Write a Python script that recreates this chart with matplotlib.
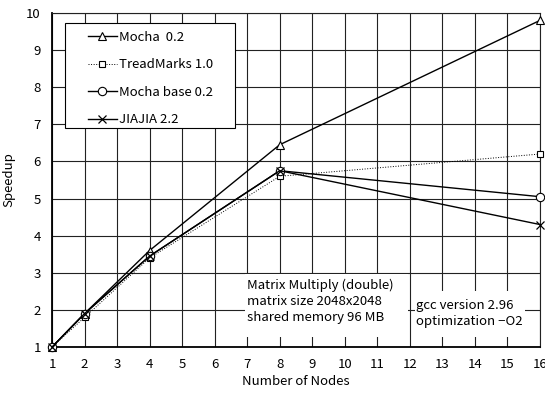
import numpy as np
import matplotlib
matplotlib.use("Agg")
import matplotlib.pyplot as plt
from matplotlib.patches import Rectangle

plt.rcParams['font.family'] = ['Noto Sans CJK JP', 'DejaVu Sans']

# data
nodes = [1, 2, 4, 8, 16]
mocha = [1.0, 1.9, 3.6, 6.45, 9.8]
treadmarks = [1.0, 1.8, 3.4, 5.6, 6.2]
mocha_base = [1.0, 1.9, 3.45, 5.75, 5.05]
jiajia = [1.0, 1.9, 3.45, 5.75, 4.3]

fig = plt.figure(figsize=(5.45, 3.93), dpi=100)
ax = fig.add_axes([0.0954, 0.117, 0.8954, 0.850])

ax.plot(nodes, mocha, color="black", lw=1.0, marker="^", ms=6,
        mfc="white", mec="black", mew=0.8, label="Mocha  0.2", clip_on=False, zorder=5)
ax.plot(nodes, treadmarks, color="black", lw=0.7, ls=":", marker="s", ms=5,
        mfc="white", mec="black", mew=0.8, label="TreadMarks 1.0", clip_on=False, zorder=5)
ax.plot(nodes, mocha_base, color="black", lw=1.0, marker="o", ms=6,
        mfc="white", mec="black", mew=0.8, label="Mocha base 0.2", clip_on=False, zorder=5)
ax.plot(nodes, jiajia, color="black", lw=1.0, marker="x", ms=5.5,
        mec="black", mew=0.9, label="JIAJIA 2.2", clip_on=False, zorder=5)

ax.set_xlim(1, 16)
ax.set_ylim(1, 10)
ax.set_xticks(range(1, 17))
ax.set_yticks(range(1, 11))
ax.grid(True, color="#222222", lw=0.8)
ax.set_axisbelow(True)
ax.tick_params(length=0, labelsize=9.5, pad=8)
for s in ["top", "right"]:
    ax.spines[s].set_linewidth(0.8)
    ax.spines[s].set_color("#222222")
for s in ["left", "bottom"]:
    ax.spines[s].set_linewidth(1.3)

ax.set_xlabel("Number of Nodes", fontsize=9.5, labelpad=3)
ax.set_ylabel("Speedup", fontsize=9.5, labelpad=8)

# legend frame drawn as its own box
ax.add_patch(Rectangle((1.40, 6.91), 5.23, 2.83, facecolor="white",
                       edgecolor="black", lw=0.8, zorder=6))
leg = ax.legend(loc="upper left", bbox_to_anchor=(2.1, 9.52),
                bbox_transform=ax.transData, fontsize=9.5, frameon=False,
                handlelength=2.2, labelspacing=1.1, borderpad=0,
                borderaxespad=0, handletextpad=0.15)
leg.set_zorder(7)

# white boxes hiding the grid behind the notes
ax.add_patch(Rectangle((6.93, 1.27), 5.01, 1.70, facecolor="white",
                       edgecolor="none", zorder=2))
ax.add_patch(Rectangle((12.16, 1.27), 3.38, 1.24, facecolor="white",
                       edgecolor="none", zorder=2))
ax.text(7.0, 2.84, "Matrix Multiply (double)\nmatrix size 2048x2048\nshared memory 96 MB",
        fontsize=9.5, linespacing=1.28, va="top", ha="left", zorder=3)
ax.text(12.2, 2.30, "gcc version 2.96\noptimization \u2212O2",
        fontsize=9.5, linespacing=1.28, va="top", ha="left", zorder=3)

fig.savefig("out.png", dpi=100)
